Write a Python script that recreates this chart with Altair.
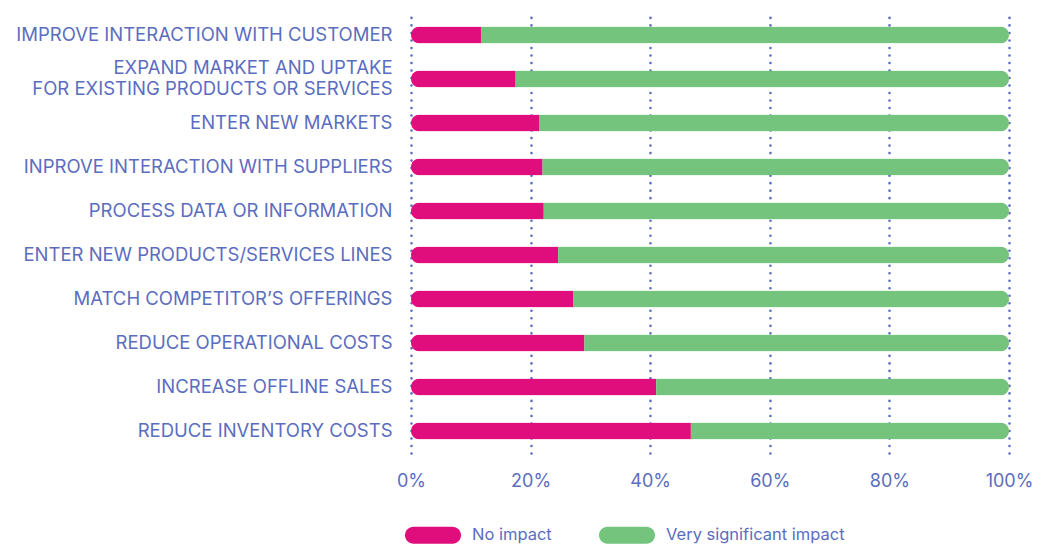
import altair as alt
import pandas as pd

categories = [
    "IMPROVE INTERACTION WITH CUSTOMER",
    "EXPAND MARKET AND UPTAKE|FOR EXISTING PRODUCTS OR SERVICES",
    "ENTER NEW MARKETS",
    "INPROVE INTERACTION WITH SUPPLIERS",
    "PROCESS DATA OR INFORMATION",
    "ENTER NEW PRODUCTS/SERVICES LINES",
    "MATCH COMPETITOR\u2019S OFFERINGS",
    "REDUCE OPERATIONAL COSTS",
    "INCREASE OFFLINE SALES",
    "REDUCE INVENTORY COSTS",
]
no_impact = [11.7, 17.5, 21.5, 22.0, 22.2, 24.6, 27.1, 29.0, 41.0, 46.8]
very_significant = [88.3, 82.5, 78.5, 78.0, 77.8, 75.4, 72.9, 71.0, 59.0, 53.2]
series = ["No impact", "Very significant impact"]
colors = ["#E00E7C", "#74C47E"]
x_ticks = [0, 20, 40, 60, 80, 100]

rows = []
for c, a, b in zip(categories, no_impact, very_significant):
    rows.append({"category": c, "series": series[0], "value": a, "ord": 0})
    rows.append({"category": c, "series": series[1], "value": b, "ord": 1})
df = pd.DataFrame(rows)

TEXT = "#5B6DBF"
FONT = "Inter"

stadium = ("M-0.6964,-0.3036 L0.6964,-0.3036 A0.3036,0.3036 0 0 1 0.6964,0.3036 "
           "L-0.6964,0.3036 A0.3036,0.3036 0 0 1 -0.6964,-0.3036 Z")

chart = alt.Chart(df).mark_bar(
    size=17, cornerRadius=8.5
).encode(
    y=alt.Y(
        "category:N",
        sort=categories,
        title=None,
        scale=alt.Scale(paddingInner=0, paddingOuter=0),
        axis=alt.Axis(
            labelExpr="split(datum.label, '|')",
            labelFont=FONT, labelFontSize=18.5, labelColor=TEXT,
            labelPadding=19, labelLimit=0, labelLineHeight=21,
            labelOffset={"condition": {"test": "indexof(datum.value, '|') >= 0", "value": -11.5}, "value": 0},
            ticks=False, domain=False, grid=False,
        ),
    ),
    x=alt.X(
        "value:Q",
        stack="zero",
        title=None,
        scale=alt.Scale(domain=[0, 100], nice=False),
        axis=alt.Axis(
            values=x_ticks,
            labelExpr="datum.value + '%'",
            labelFont=FONT, labelFontSize=18, labelColor=TEXT,
            labelPadding=19, labelFlush=False, ticks=False, domain=False,
            grid=True, gridColor=TEXT, gridDash=[0.01, 7.5], gridCap="round",
            gridWidth=2.6, gridOpacity=1,
        ),
    ),
    color=alt.Color(
        "series:N",
        scale=alt.Scale(domain=series, range=colors),
        legend=alt.Legend(
            title=None, orient="none", direction="horizontal",
            legendX=-6, legendY=494,
            symbolType=stadium, symbolSize=3136, symbolStrokeWidth=0,
            symbolOpacity=1,
            labelFont=FONT, labelFontSize=16.5, labelColor=TEXT, labelLimit=0,
            labelOffset=11, columnPadding=46,
        ),
    ),
    order=alt.Order("ord:Q"),
).properties(
    width=598, height=440,
    autosize=alt.AutoSizeParams(type="none"),
    padding={"left": 403, "top": 5, "right": 24, "bottom": 93},
).configure_view(stroke=None)

chart.save("out.html", embed_options={"renderer": "svg", "actions": False})
